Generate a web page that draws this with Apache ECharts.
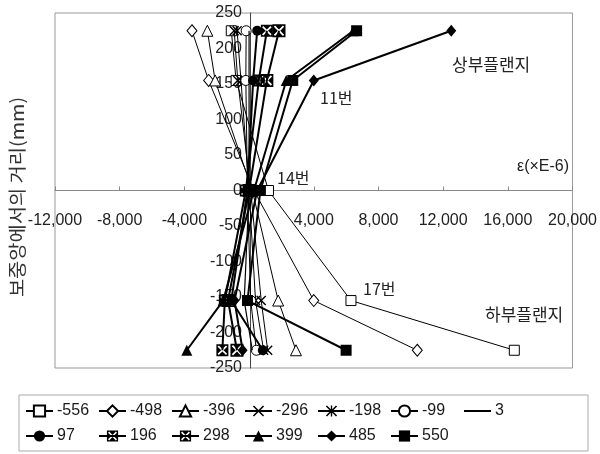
<!DOCTYPE html>
<html>
<head>
<meta charset="utf-8">
<script src="https://cdn.jsdelivr.net/npm/echarts@6/dist/echarts.min.js"></script>
<style>
  html, body { margin: 0; padding: 0; background: #fff; }
  #chart { width: 600px; height: 454px; }
</style>
</head>
<body>
<div id="chart"></div>
<script>
// Distance from the beam centre (mm) at which each gauge sits
const heights = [225, 155, 0, -155, -225];

// Legend names: gauge line position along the beam (mm)
const positions = ['-556', '-498', '-396', '-296', '-198', '-99', '3', '97', '196', '298', '399', '485', '550'];

// Strain (x 1e-6) at each height, top flange to bottom flange
const strainM556 = [-1100, -800, 1200, 6300, 16400];
const strainM498 = [-3530, -2500, 300, 4000, 10400];
const strainM396 = [-2580, -2100, 200, 1800, 2900];
const strainM296 = [-920, -700, 100, 750, 1150];
const strainM198 = [-740, -500, 0, 400, 900];
const strainM99 = [-180, -200, -100, 100, 450];
const strainP3 = [0, 0, 0, -300, 200];
const strainP97 = [500, 250, -100, -1100, 850];
const strainP196 = [1100, 600, -200, -1500, -1650];
const strainP298 = [1850, 1100, 0, -1300, -750];
const strainP399 = [6450, 2300, 300, -1600, -3850];
const strainP485 = [12500, 4000, 500, -900, -400];
const strainP550 = [6650, 2700, 700, -100, 6000];

const strains = [strainM556, strainM498, strainM396, strainM296, strainM198, strainM99,
                 strainP3, strainP97, strainP196, strainP298, strainP399, strainP485, strainP550];

// Axis ticks
const xMin = -12000, xMax = 20000, xStep = 4000;
const yMin = -250, yMax = 250, yStep = 50;

// Plot box (px)
const gridLeft = 55, gridRight = 25, gridTop = 13, gridBottom = 86;
const plotW = 600 - gridLeft - gridRight;
const plotH = 454 - gridTop - gridBottom;
// Shift both axes so they cross at (0, 0)
const yAxisShift = -plotW * (0 - xMin) / (xMax - xMin);
const xAxisShift = -plotH * (0 - yMin) / (yMax - yMin);

// Marker shapes
const crossPath = 'path://M1,0L5,4L9,0L10,1L6,5L10,9L9,10L5,6L1,10L0,9L4,5L0,1Z';
const starPath = 'path://M1,0L5,4L9,0L10,1L6,5L10,9L9,10L5,6L1,10L0,9L4,5L0,1Z M4.4,0L5.6,0L5.6,10L4.4,10Z';
const boxCrossPath = 'path://M0,0L10,0L10,10L0,10Z M2,1L1,2L4,5L1,8L2,9L5,6L8,9L9,8L6,5L9,2L8,1L5,4Z';

const styles = [
  { symbol: 'rect', size: 10, fill: '#fff', width: 1 },
  { symbol: 'diamond', size: [10, 12], fill: '#fff', width: 1 },
  { symbol: 'triangle', size: 11, fill: '#fff', width: 1 },
  { symbol: crossPath, size: 10, fill: '#000', width: 1 },
  { symbol: starPath, size: 10, fill: '#000', width: 1 },
  { symbol: 'circle', size: 10, fill: '#fff', width: 1 },
  { symbol: 'none', size: 0, fill: '#000', width: 1.2 },
  { symbol: 'circle', size: 10, fill: '#000', width: 2 },
  { symbol: boxCrossPath, size: 12, fill: '#000', width: 2 },
  { symbol: boxCrossPath, size: 13, fill: '#000', width: 2 },
  { symbol: 'triangle', size: 11, fill: '#000', width: 2 },
  { symbol: 'diamond', size: [10, 12], fill: '#000', width: 2 },
  { symbol: 'rect', size: 11, fill: '#000', width: 2 }
];

const series = positions.map((name, i) => ({
  name: name,
  type: 'line',
  data: strains[i].map((x, k) => [x, heights[k]]),
  symbol: styles[i].symbol,
  symbolSize: styles[i].size,
  showAllSymbol: true,
  lineStyle: { color: '#000', width: styles[i].width },
  itemStyle: { color: styles[i].fill, borderColor: '#000', borderWidth: styles[i].fill === '#fff' ? 1 : 0 },
  emphasis: { disabled: true },
  animation: false,
  z: i + 2
}));

const fmt = v => {
  const s = Math.abs(v).toString().replace(/\B(?=(\d{3})+(?!\d))/g, ',');
  return (v < 0 ? '-' : '') + s;
};

const numFont = 'Liberation Sans, Arial, sans-serif';
const krFont = 'Noto Sans CJK KR, sans-serif';

// Legend laid out as a 7-column table inside a framed box
const legendCols = 7, legendColW = 73, legendX = 25, legendRowTop = [403, 428];
const legends = positions.map((name, i) => ({
  data: [styles[i].symbol === 'none' ? { name: name, itemStyle: { opacity: 0 } } : { name: name }],
  left: legendX + (i % legendCols) * legendColW,
  top: legendRowTop[Math.floor(i / legendCols)],
  padding: 0, itemGap: 0, itemWidth: 27, itemHeight: 14,
  textStyle: { color: '#1a1a1a', fontSize: 16, fontFamily: numFont, padding: [0, 0, 0, -1] },
  selectedMode: false
}));

const note = (text, x, y, size) => ({
  type: 'text', left: x, top: y, z: 100,
  style: { text: text, font: 'normal ' + (size || 16) + 'px ' + krFont, fill: '#222' }
});

const chart = echarts.init(document.getElementById('chart'), null, { renderer: 'canvas' });
chart.setOption({
  backgroundColor: '#fff',
  animation: false,
  grid: { left: gridLeft, right: gridRight, top: gridTop, bottom: gridBottom, show: true, borderColor: '#999', borderWidth: 1 },
  xAxis: {
    type: 'value', min: xMin, max: xMax, interval: xStep,
    position: 'bottom', offset: xAxisShift,
    axisLine: { onZero: false, lineStyle: { color: '#888', width: 1 } },
    axisTick: { show: true, inside: true, length: 4, lineStyle: { color: '#888' } },
    splitLine: { show: false },
    axisLabel: {
      margin: 22, color: '#222', fontSize: 16, fontFamily: numFont,
      formatter: v => (v === 0 ? '' : fmt(v))
    }
  },
  yAxis: {
    type: 'value', min: yMin, max: yMax, interval: yStep,
    position: 'left', offset: yAxisShift,
    axisLine: { onZero: false, lineStyle: { color: '#444', width: 1 } },
    axisTick: { show: false },
    splitLine: { show: false },
    axisLabel: { margin: 8, color: '#222', fontSize: 16, fontFamily: numFont }
  },
  legend: legends,
  graphic: [
    { type: 'rect', shape: { x: 19, y: 395, width: 569, height: 56 },
      style: { fill: 'none', stroke: '#aaa', lineWidth: 1 }, z: 0 },
    { type: 'text', x: 17, y: 197, rotation: Math.PI / 2, scaleX: 1.1, z: 100,
      style: { text: '보중앙에서의 거리(mm)', font: 'normal 18px ' + krFont, fill: '#333',
               textAlign: 'center', textVerticalAlign: 'middle' } },
    note('상부플랜지', 452, 56, 17),
    note('11번', 320, 90, 16),
    note('14번', 277, 170, 16),
    note('17번', 363, 281, 16),
    note('하부플랜지', 485, 306, 17),
    { type: 'text', left: 517, top: 159, z: 100,
      style: { text: 'ε(×E-6)', font: 'normal 16px ' + numFont, fill: '#222' } }
  ],
  series: series
});
</script>
</body>
</html>
